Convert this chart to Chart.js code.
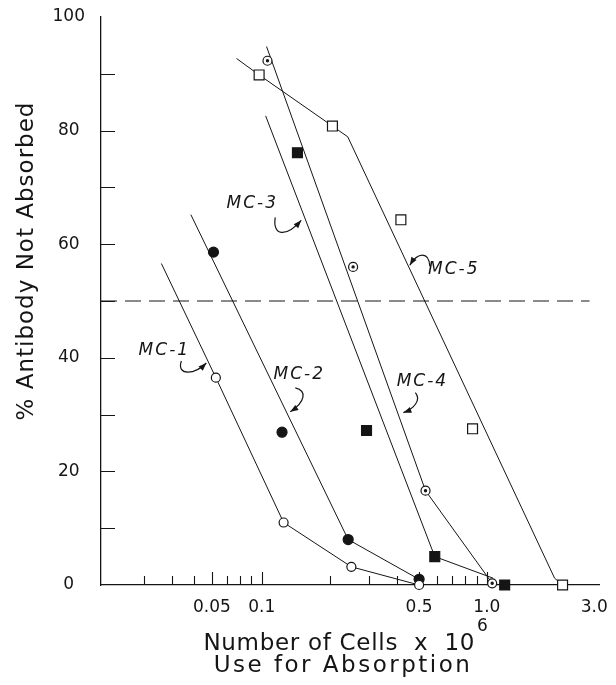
<!DOCTYPE html>
<html>
<head>
<meta charset="utf-8">
<title>Antibody absorption</title>
<script src="https://cdn.jsdelivr.net/npm/chart.js@4.4.1/dist/chart.umd.min.js"></script>
<style>
    html, body { margin: 0; padding: 0; background: #fff; }
    canvas { display: block; }
</style>
</head>
<body>
<canvas id="absorption_chart" width="616" height="685"></canvas>
<script>
// values: x = number of cells (x 10^6), y = % antibody not absorbed
const mc1X = [0.0625, 0.125, 0.25, 0.5];
const mc1Y = [36.5, 11.0, 3.2, 0];
const mc1LineX = [0.0358, 0.0625, 0.125, 0.25, 0.5];
const mc1LineY = [56.6, 36.5, 11.0, 3.2, 0];

const mc2X = [0.061, 0.123, 0.242, 0.5];
const mc2Y = [58.6, 26.9, 8.0, 1.0];
const mc2LineX = [0.0484, 0.242, 0.5];
const mc2LineY = [65.2, 8.0, 1.0];

const mc3X = [0.144, 0.292, 0.587, 1.2];
const mc3Y = [76.1, 27.2, 5.0, 0];
const mc3LineX = [0.104, 0.587, 1.067];
const mc3LineY = [82.6, 5.0, 1.2];

const mc4X = [0.106, 0.2545, 0.534, 1.056];
const mc4Y = [92.3, 56.0, 16.6, 0.3];
const mc4LineX = [0.105, 0.534, 1.056];
const mc4LineY = [94.8, 16.6, 0.3];

const mc5X = [0.0973, 0.206, 0.415, 0.864, 2.17];
const mc5Y = [89.8, 80.8, 64.3, 27.5, 0];
const mc5LineX = [0.0772, 0.0973, 0.206, 0.241, 2.0, 2.17];
const mc5LineY = [92.7, 89.8, 80.8, 78.9, 1.2, 0];

// 50 % reference line
const halfX = [0.0193, 2.86];
const halfY = [50, 50];

// axis ticks and labels
const xTickVals = [0.06, 0.1, 0.5, 1.0, 3.0];
const xTickLabels = ['0.05', '0.1', '0.5', '1.0', '3.0'];
const xMinorTicks = [0.03, 0.04, 0.05, 0.07, 0.08, 0.09, 0.2, 0.3, 0.4, 0.6, 0.7, 0.8, 0.9];
const xMajorTicks = [0.06, 0.1, 0.5, 1.0];
const yTickLabels = [0, 20, 40, 60, 80, 100];
const yMinorTicks = [10, 20, 30, 40, 50, 60, 70, 80, 90];

// curve labels (centre of the text, in data units)
const curveNames = ['MC-1', 'MC-2', 'MC-3', 'MC-4', 'MC-5'];
const curveNameX = [0.0369, 0.1468, 0.0907, 0.517, 0.713];
const curveNameY = [41.2, 37.0, 67.2, 35.8, 55.6];

const INK = '#151515';
const TICK_FONT = { family: '"DejaVu Sans", sans-serif', size: 17 };

// hooked arrows from each label to its line, as pixel offsets from the label centre
const arrowPaths = [
    [17, 10, 12, 25, 30, 24, 42, 12],
    [-4, 13, 8, 16, 6, 27, -9, 37],
    [23, 14, 20, 33, 34, 34, 49, 17],
    [-7, 11, -1, 18, -8, 27, -19, 31],
    [-24, -3, -25, -18, -36, -17, -44, -4]
];

document.addEventListener('DOMContentLoaded', () => {
    drawAbsorptionChart();
});

function toPoints(xs, ys) {
    return xs.map((x, i) => ({ x: x, y: ys[i] }));
}

function lineSet(xs, ys) {
    return {
        data: toPoints(xs, ys),
        showLine: true,
        pointRadius: 0,
        borderColor: INK,
        borderWidth: 1,
        tension: 0,
        clip: false,
        order: 5
    };
}

function pointSet(xs, ys, style, radius, fill) {
    return {
        data: toPoints(xs, ys),
        showLine: false,
        pointStyle: style,
        pointRadius: radius,
        pointBackgroundColor: fill,
        pointBorderColor: INK,
        pointBorderWidth: 1.2,
        clip: false,
        order: 1
    };
}

function drawArrowHead(ctx, fromX, fromY, tipX, tipY) {
    const angle = Math.atan2(tipY - fromY, tipX - fromX);
    const len = 8;
    const half = 3;
    ctx.beginPath();
    ctx.moveTo(tipX, tipY);
    ctx.lineTo(tipX - len * Math.cos(angle) + half * Math.sin(angle), tipY - len * Math.sin(angle) - half * Math.cos(angle));
    ctx.lineTo(tipX - len * Math.cos(angle) - half * Math.sin(angle), tipY - len * Math.sin(angle) + half * Math.cos(angle));
    ctx.closePath();
    ctx.fill();
}

const figureDecor = {
    id: 'figureDecor',
    beforeDatasetsDraw(chart) {
        const { ctx, chartArea, scales } = chart;
        ctx.save();
        ctx.strokeStyle = INK;
        ctx.lineWidth = 1.1;
        ctx.beginPath();
        xMinorTicks.forEach(v => {
            const px = Math.round(scales.x.getPixelForValue(v)) + 0.5;
            ctx.moveTo(px, chartArea.bottom);
            ctx.lineTo(px, chartArea.bottom - 9);
        });
        xMajorTicks.forEach(v => {
            const px = Math.round(scales.x.getPixelForValue(v)) + 0.5;
            ctx.moveTo(px, chartArea.bottom);
            ctx.lineTo(px, chartArea.bottom - 13);
        });
        yMinorTicks.forEach(v => {
            const py = Math.round(scales.y.getPixelForValue(v)) + 0.5;
            ctx.moveTo(chartArea.left, py);
            ctx.lineTo(chartArea.left + 14, py);
        });
        ctx.stroke();
        ctx.restore();
    },
    afterDraw(chart) {
        const { ctx, chartArea, scales } = chart;
        ctx.save();
        ctx.fillStyle = INK;
        ctx.strokeStyle = INK;

        // curve labels with their hooked arrows
        ctx.font = 'italic 17px "DejaVu Sans", sans-serif';
        ctx.letterSpacing = '2px';
        ctx.textBaseline = 'middle';
        ctx.textAlign = 'left';
        curveNames.forEach((name, i) => {
            const cx = scales.x.getPixelForValue(curveNameX[i]);
            const cy = scales.y.getPixelForValue(curveNameY[i]);
            const w = ctx.measureText(name).width;
            ctx.fillText(name, cx - w / 2, cy);

            const p = arrowPaths[i];
            ctx.lineWidth = 1.2;
            ctx.beginPath();
            ctx.moveTo(cx + p[0], cy + p[1]);
            ctx.bezierCurveTo(cx + p[2], cy + p[3], cx + p[4], cy + p[5], cx + p[6], cy + p[7]);
            ctx.stroke();
            drawArrowHead(ctx, cx + p[4], cy + p[5], cx + p[6], cy + p[7]);
        });

        // axis titles
        ctx.letterSpacing = '1px';
        ctx.font = '23px "DejaVu Sans", sans-serif';
        ctx.textBaseline = 'alphabetic';
        ctx.textAlign = 'center';
        ctx.save();
        ctx.translate(chartArea.left - 68, (chartArea.top + chartArea.bottom) / 2 - 40);
        ctx.rotate(-Math.PI / 2);
        ctx.fillText('% Antibody Not Absorbed', 0, 0);
        ctx.restore();

        const midX = (chartArea.left + chartArea.right) / 2 - 4;
        ctx.textAlign = 'left';
        ctx.letterSpacing = '0.7px';
        const line1 = 'Number of Cells  x  10';
        const w1 = ctx.measureText(line1).width;
        ctx.font = '17px "DejaVu Sans", sans-serif';
        const wSup = ctx.measureText('6').width;
        const start1 = midX - (w1 + wSup + 2) / 2;
        ctx.font = '23px "DejaVu Sans", sans-serif';
        ctx.fillText(line1, start1, chartArea.bottom + 65);
        ctx.font = '17px "DejaVu Sans", sans-serif';
        ctx.fillText('6', start1 + w1 + 2, chartArea.bottom + 46);
        ctx.font = '23px "DejaVu Sans", sans-serif';
        ctx.letterSpacing = '2.5px';
        const line2 = 'Use for Absorption';
        const w2 = ctx.measureText(line2).width;
        ctx.fillText(line2, midX - 3 - w2 / 2, chartArea.bottom + 87);
        ctx.restore();
    }
};

function drawAbsorptionChart() {
    const ctx = document.getElementById('absorption_chart').getContext('2d');

    const datasets = [
        lineSet(halfX, halfY),
        lineSet(mc1LineX, mc1LineY),
        lineSet(mc2LineX, mc2LineY),
        lineSet(mc3LineX, mc3LineY),
        lineSet(mc4LineX, mc4LineY),
        lineSet(mc5LineX, mc5LineY),
        pointSet(mc1X, mc1Y, 'circle', 4.5, '#fff'),
        pointSet(mc2X, mc2Y, 'circle', 5, INK),
        pointSet(mc3X, mc3Y, 'rect', 7, INK),
        pointSet(mc4X, mc4Y, 'circle', 4.5, '#fff'),
        pointSet(mc4X, mc4Y, 'circle', 1.1, INK),
        pointSet(mc5X, mc5Y, 'rect', 7, '#fff')
    ];
    datasets[0].borderDash = [16, 8];
    datasets[10].order = 0;

    new Chart(ctx, {
        type: 'scatter',
        data: { datasets: datasets },
        options: {
            responsive: false,
            animation: false,
            devicePixelRatio: 1,
            events: [],
            layout: { padding: { top: 17, right: 17, bottom: 0, left: 0 } },
            plugins: {
                legend: { display: false },
                tooltip: { enabled: false }
            },
            scales: {
                x: {
                    type: 'logarithmic',
                    min: 0.0193,
                    max: 3.15,
                    grid: { display: false, drawTicks: false, tickLength: 0 },
                    border: { display: true, color: INK, width: 1.3 },
                    afterBuildTicks: scale => {
                        scale.ticks = xTickVals.map(v => ({ value: v }));
                    },
                    afterFit: scale => {
                        scale.height = 100;
                        scale.paddingLeft = 0;
                        scale.paddingRight = 0;
                    },
                    ticks: {
                        autoSkip: false,
                        maxRotation: 0,
                        padding: 12,
                        color: INK,
                        font: TICK_FONT,
                        callback: (value, index) => xTickLabels[index]
                    }
                },
                y: {
                    type: 'linear',
                    min: 0,
                    max: 100,
                    grid: { display: false, drawTicks: false, tickLength: 0 },
                    border: { display: true, color: INK, width: 1.3 },
                    afterBuildTicks: scale => {
                        scale.ticks = yTickLabels.map(v => ({ value: v }));
                    },
                    afterFit: scale => {
                        scale.width = 101;
                        scale.paddingTop = 0;
                        scale.paddingBottom = 0;
                    },
                    ticks: {
                        padding: 16,
                        crossAlign: 'center',
                        color: INK,
                        font: TICK_FONT
                    }
                }
            }
        },
        plugins: [figureDecor]
    });
}
</script>
</body>
</html>
